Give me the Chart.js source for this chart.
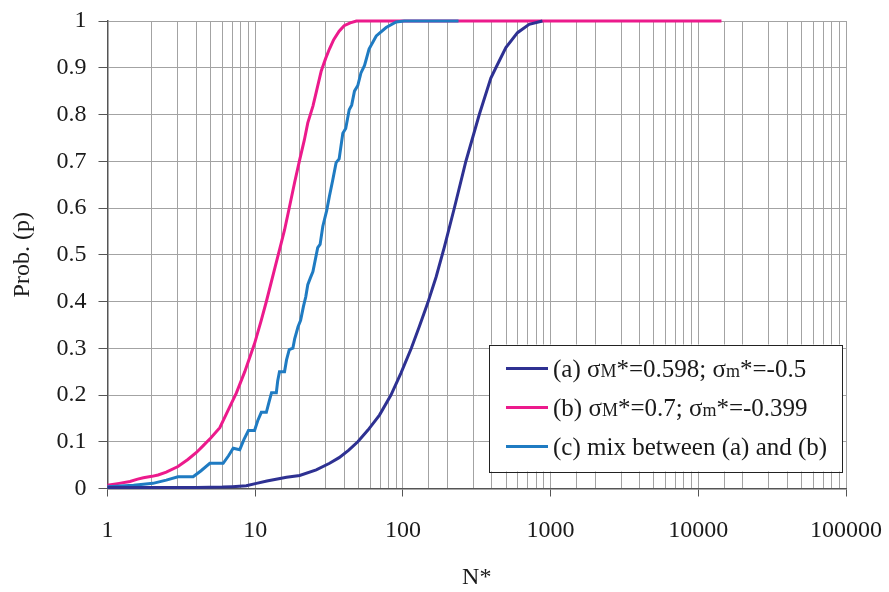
<!DOCTYPE html>
<html>
<head>
<meta charset="utf-8">
<script src="https://cdn.jsdelivr.net/npm/chart.js@4/dist/chart.umd.min.js"></script>
<style>
  html, body { margin: 0; padding: 0; background: #ffffff; }
  canvas { display: block; }
</style>
</head>
<body>
<canvas id="chart" width="889" height="592"></canvas>
<script>
// Cumulative probability curves vs. normalised life N*

// (a) sigmaM*=0.598; sigmam*=-0.5
const nA = [1, 2, 4, 6, 7, 8.7, 10.2, 12, 16.3, 20, 25.9, 31.9, 37, 43, 49.5, 58, 69.4, 83, 97, 114, 129, 147, 168, 191, 223, 267, 329, 394, 426, 498, 597, 716, 880];
const pA = [0.002, 0.002, 0.002, 0.003, 0.004, 0.006, 0.011, 0.016, 0.024, 0.028, 0.04, 0.054, 0.066, 0.082, 0.10, 0.125, 0.157, 0.20, 0.247, 0.30, 0.346, 0.396, 0.453, 0.517, 0.60, 0.70, 0.80, 0.878, 0.90, 0.943, 0.975, 0.993, 1.0];

// (b) sigmaM*=0.7; sigmam*=-0.399
const nB = [1, 1.2, 1.42, 1.6, 1.75, 2.0, 2.2, 2.5, 3.0, 3.5, 4.0, 4.4, 5.0, 5.76, 6.5, 7.45, 8.5, 9.9, 11, 11.9, 13.5, 15, 15.8, 17, 18.5, 20, 21.5, 22.7, 24.6, 26, 28, 30, 31.8, 34, 37, 40, 44, 48.4, 14350];
const pB = [0.007, 0.011, 0.015, 0.02, 0.023, 0.026, 0.029, 0.035, 0.047, 0.062, 0.077, 0.09, 0.108, 0.13, 0.165, 0.204, 0.25, 0.31, 0.36, 0.40, 0.468, 0.525, 0.553, 0.60, 0.655, 0.703, 0.745, 0.782, 0.818, 0.85, 0.893, 0.92, 0.94, 0.96, 0.978, 0.99, 0.996, 1.0, 1.0];

// (c) mix between (a) and (b)
const nC = [1, 1.5, 1.75, 2.03, 2.5, 3.0, 3.8, 4.3, 4.93, 6.07, 6.6, 7.1, 7.86, 8.4, 9.0, 9.9, 10.4, 11, 11.9, 12.4, 12.9, 13.9, 14.2, 14.6, 15.8, 16.3, 17, 18, 18.5, 19.5, 20.3, 21.2, 22, 22.7, 23.6, 24.6, 26.5, 27.5, 28.7, 30.5, 31.8, 33.5, 35.3, 37, 39.2, 41, 43.3, 45, 47, 49.5, 52, 55, 59, 66, 77, 90, 102, 238];
const pC = [0.004, 0.007, 0.009, 0.011, 0.018, 0.025, 0.025, 0.038, 0.054, 0.054, 0.07, 0.086, 0.083, 0.105, 0.124, 0.124, 0.145, 0.163, 0.163, 0.185, 0.205, 0.205, 0.23, 0.25, 0.25, 0.275, 0.297, 0.30, 0.32, 0.346, 0.36, 0.389, 0.41, 0.436, 0.45, 0.464, 0.515, 0.522, 0.561, 0.595, 0.625, 0.66, 0.697, 0.705, 0.76, 0.77, 0.81, 0.82, 0.85, 0.862, 0.889, 0.905, 0.94, 0.968, 0.986, 0.998, 1.0, 1.0];

const seriesLabels = [
  '(a) σM*=0.598; σm*=-0.5',
  '(b) σM*=0.7; σm*=-0.399',
  '(c) mix between (a) and (b)'
];
const seriesColors = ['#2e3192', '#ec1a8c', '#1f7bc2'];

const xTickLabels = ['1', '10', '100', '1000', '10000', '100000'];
const yTickValues = [0, 0.1, 0.2, 0.3, 0.4, 0.5, 0.6, 0.7, 0.8, 0.9, 1];
const yTickLabels = ['0', '0.1', '0.2', '0.3', '0.4', '0.5', '0.6', '0.7', '0.8', '0.9', '1'];

const FONT = 'Liberation Serif';
const TEXT = '#1a1a1a';

function toPoints(xs, ys) { return xs.map((x, i) => ({ x: x, y: ys[i] })); }
function isDecade(v) { const l = Math.log10(v); return Math.abs(l - Math.round(l)) < 1e-9; }

// Boxed legend; the letter after σ is drawn in a smaller size
const boxLegend = {
  id: 'boxLegend',
  afterDatasetsDraw(chart) {
    const ctx = chart.ctx;
    const area = chart.chartArea;
    const boxR = area.right - 4, boxB = area.bottom - 17;
    const boxW = 353, boxH = 127;
    const boxL = boxR - boxW, boxT = boxB - boxH;
    ctx.save();
    ctx.fillStyle = '#ffffff';
    ctx.fillRect(boxL, boxT, boxW, boxH);
    ctx.strokeStyle = '#222222';
    ctx.lineWidth = 1;
    ctx.strokeRect(Math.round(boxL) + 0.5, Math.round(boxT) + 0.5, boxW, boxH);
    const big = 25, small = 18;
    ctx.textBaseline = 'alphabetic';
    seriesLabels.forEach((label, i) => {
      const cy = boxT + 24 + i * 39;
      ctx.strokeStyle = seriesColors[i];
      ctx.lineWidth = 3;
      ctx.beginPath();
      ctx.moveTo(boxL + 17, cy);
      ctx.lineTo(boxL + 59, cy);
      ctx.stroke();
      let x = boxL + 64;
      const base = cy + 8;
      ctx.fillStyle = TEXT;
      for (let k = 0; k < label.length; k++) {
        const ch = label[k];
        const reduced = k > 0 && label[k - 1] === 'σ';
        ctx.font = (reduced ? small : big) + 'px "' + FONT + '"';
        ctx.fillText(ch, x, base);
        x += ctx.measureText(ch).width;
      }
    });
    ctx.restore();
  }
};

new Chart(document.getElementById('chart'), {
  type: 'line',
  data: {
    datasets: [
      { label: seriesLabels[0], data: toPoints(nA, pA), borderColor: seriesColors[0], order: 0 },
      { label: seriesLabels[1], data: toPoints(nB, pB), borderColor: seriesColors[1], order: 2 },
      { label: seriesLabels[2], data: toPoints(nC, pC), borderColor: seriesColors[2], order: 1 }
    ]
  },
  options: {
    responsive: false,
    animation: false,
    devicePixelRatio: 1,
    layout: { padding: { top: 21, right: 43, left: 0, bottom: 0 } },
    elements: {
      line: { borderWidth: 3, tension: 0, fill: false },
      point: { radius: 0, hoverRadius: 0 }
    },
    datasets: { line: { clip: false } },
    plugins: { legend: { display: false }, tooltip: { enabled: false } },
    scales: {
      x: {
        type: 'logarithmic',
        min: 1,
        max: 100000,
        afterFit(scale) {
          scale.height = 103.5;
          scale.paddingLeft = 0;
          scale.paddingRight = 0;
        },
        border: { color: '#555555', width: 1.5 },
        grid: {
          color: '#a3a3a3',
          lineWidth: 1,
          tickLength: 8,
          tickColor: (c) => (c.tick && isDecade(c.tick.value)) ? '#555555' : 'rgba(0,0,0,0)'
        },
        ticks: {
          autoSkip: false,
          maxRotation: 0,
          padding: 20,
          color: TEXT,
          font: { family: FONT, size: 24 },
          callback: (v) => isDecade(v) ? xTickLabels[Math.round(Math.log10(v))] : ''
        },
        title: {
          display: true,
          text: 'N*',
          color: TEXT,
          font: { family: FONT, size: 24 },
          padding: { top: 0, bottom: 0 }
        }
      },
      y: {
        min: 0,
        max: 1,
        afterFit(scale) {
          scale.width = 107.5;
          scale.paddingTop = 0;
          scale.paddingBottom = 0;
        },
        afterBuildTicks(scale) { scale.ticks = yTickValues.map(v => ({ value: v })); },
        border: { color: '#555555', width: 1.5 },
        grid: { color: '#a3a3a3', lineWidth: 1, tickLength: 9, tickColor: '#555555' },
        ticks: {
          padding: 12,
          color: TEXT,
          font: { family: FONT, size: 24 },
          callback: (v) => yTickLabels[yTickValues.findIndex(t => Math.abs(t - v) < 1e-9)]
        },
        title: {
          display: true,
          text: 'Prob. (p)',
          color: TEXT,
          font: { family: FONT, size: 24 },
          padding: { top: 8, bottom: 0 }
        }
      }
    }
  },
  plugins: [boxLegend]
});
</script>
</body>
</html>
